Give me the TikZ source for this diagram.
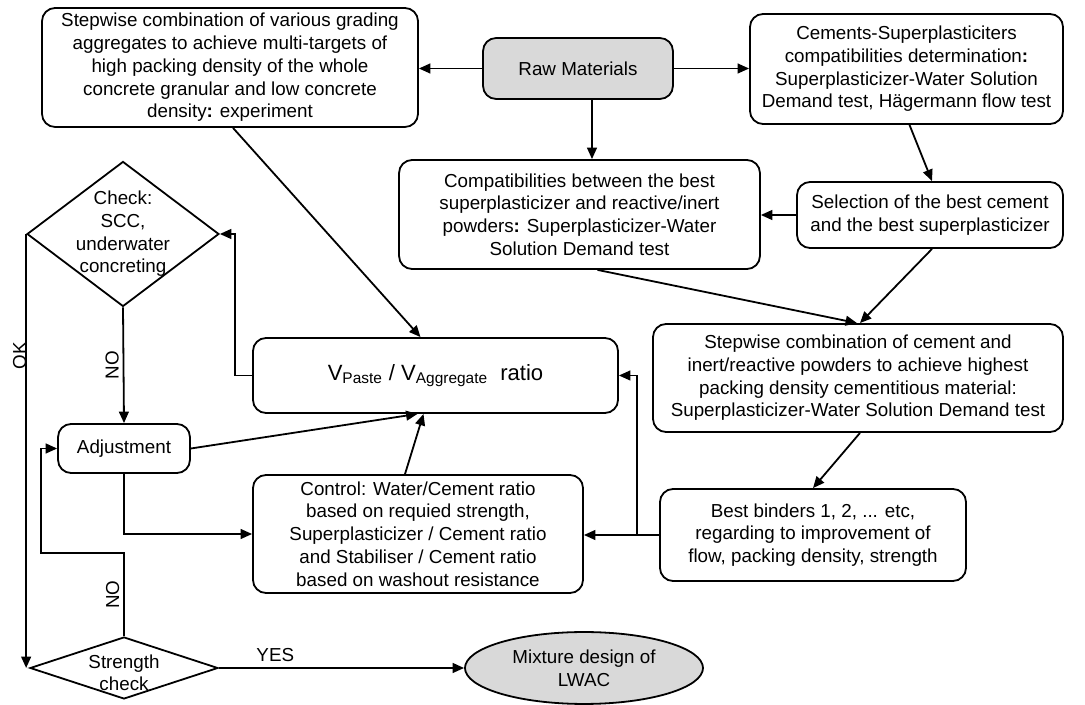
\documentclass[tikz,border=0pt]{standalone}
\usepackage{fontspec}
\setmainfont{Liberation Sans}
\usetikzlibrary{arrows.meta,positioning,shapes.geometric,calc}

\begin{document}
\begin{tikzpicture}[
  x=0.0215cm, y=0.0215cm,
  arr/.style={-{Triangle[length=7pt, width=6pt]}, line width=1.1pt},
  box/.style={draw, line width=1.1pt, rounded corners=8pt, align=center, inner sep=2pt, font=\fontsize{11.5}{13.9}\selectfont},
  grey/.style={fill=black!15},
  dia/.style={draw, diamond, line width=1.1pt, inner sep=0pt},
  lbl/.style={font=\fontsize{11.5}{13.9}\selectfont, align=center}
]
\useasboundingbox (0,0) rectangle (1085,-705);

% Top row
\node[box, minimum width=230pt, minimum height=72.8pt] (agg) at (230,-67.5)
  {Stepwise combination of various grading\\aggregates to achieve multi-targets of\\high packing density of the whole\\concrete granular and low concrete\\density\textbf{:} experiment};
\node[box, grey, minimum width=116.2pt, minimum height=37.3pt] (raw) at (578,-68.5) {Raw Materials};
\node[box, minimum width=191.5pt, minimum height=67.3pt] (cem) at (906.5,-69)
  {Cements-Superplasticiters\\compatibilities determination\textbf{:}\\Superplasticizer-Water Solution\\Demand test, Hägermann flow test};

% Powders
\node[box, minimum width=220.8pt, minimum height=66.7pt] (compat) at (579.5,-214.5)
  {Compatibilities between the best\\superplasticizer and reactive/inert\\powders\textbf{:} Superplasticizer-Water\\Solution Demand test};
\node[box, minimum width=162.7pt, minimum height=40.4pt] (sel) at (930,-215)
  {Selection of the best cement\\and the best superplasticizer};
\node[box, minimum width=250.8pt, minimum height=66.1pt] (powd) at (858,-378)
  {Stepwise combination of cement and\\inert/reactive powders to achieve highest\\packing density cementitious material:\\Superplasticizer-Water Solution Demand test};
\node[box, minimum width=187.2pt, minimum height=56.3pt] (bind) at (813,-535)
  {Best binders 1, 2, ... etc,\\regarding to improvement of\\flow, packing density, strength};

% Mix design loop
\node[box, minimum width=223.3pt, minimum height=45.9pt, font=\fontsize{13.5}{16}\selectfont] (ratio) at (435.5,-375.5)
  {V\textsubscript{Paste} / V\textsubscript{Aggregate}\ \ ratio};
\node[box, minimum width=201.9pt, minimum height=72.2pt] (ctrl) at (418,-534)
  {Control: Water/Cement ratio\\based on requied strength,\\Superplasticizer / Cement ratio\\and Stabiliser / Cement ratio\\based on washout resistance};
\node[box, minimum width=80.7pt, minimum height=30pt] (adj) at (124,-448.5) {Adjustment};
\node[dia, minimum width=117.4pt, minimum height=88.7pt,
  label={[lbl]center:{Check:\\SCC,\\underwater\\concreting}}] (check) at (123,-234) {};
\node[dia, minimum width=115pt, minimum height=37.9pt,
  label={[lbl, yshift=-3pt]center:{Strength\\check}}] (strength) at (124,-668) {};
\node[draw, ellipse, grey, line width=1.1pt, inner sep=0pt, minimum width=145.6pt, minimum height=44pt, lbl] (mix) at (584,-668)
  {Mixture design of\\LWAC};

% Connectors
\draw[arr] (raw.west) -- (raw.west -| agg.east);
\draw[arr] (raw.east) -- (raw.east -| cem.west);
\draw[arr] ($(raw.south)+(14,0)$) -- ($(compat.north)+(12.5,0)$);
\draw[arr] ($(cem.south)+(3,0)$) -- ($(sel.north)+(2,0)$);
\draw[arr] (sel.west) -- (sel.west -| compat.east);
\draw[arr] ($(compat.south)+(18,0)$) -- ($(powd.north)+(-1,0)$);
\draw[arr] ($(sel.south)+(2,0)$) -- ($(powd.north)+(2,0)$);
\draw[arr] ($(powd.south)+(2,0)$) -- (bind.north);
\draw[arr] (bind.west) -- (bind.west -| ctrl.east);
\draw[arr] ($(bind.west)+(-22,0)$) |- (ratio.east);
\draw[arr] ($(agg.south)+(3,0)$) -- ($(ratio.north)+(-15,0)$);
\draw[arr] (ratio.west) -| ($(check.east)+(15,0)$) -- (check.east);
\draw[arr] (check.south) -- (adj.north) node[lbl, midway, rotate=90, above, yshift=-1pt]{NO};
\draw[arr] (adj.east) -- ($(ratio.south)+(-18,0)$);
\draw[arr] ($(ctrl.north)+(-13,0)$) -- ($(ratio.south)+(-12,0)$);
\draw[arr] (adj.south) |- (ctrl.west);
\draw[arr] (strength.north) -- ++(0,83) node[lbl, midway, rotate=90, above, yshift=-1pt]{NO}
  -| ($(adj.west)+(-16,0)$) -- (adj.west);
\draw[arr] (check.west) -- (check.west |- strength.west) node[lbl, pos=0.28, rotate=90, above, yshift=-4pt]{OK};
\draw[arr] (strength.east) -- (mix.west) node[lbl, pos=0.23, above]{YES};

\end{tikzpicture}
\end{document}
